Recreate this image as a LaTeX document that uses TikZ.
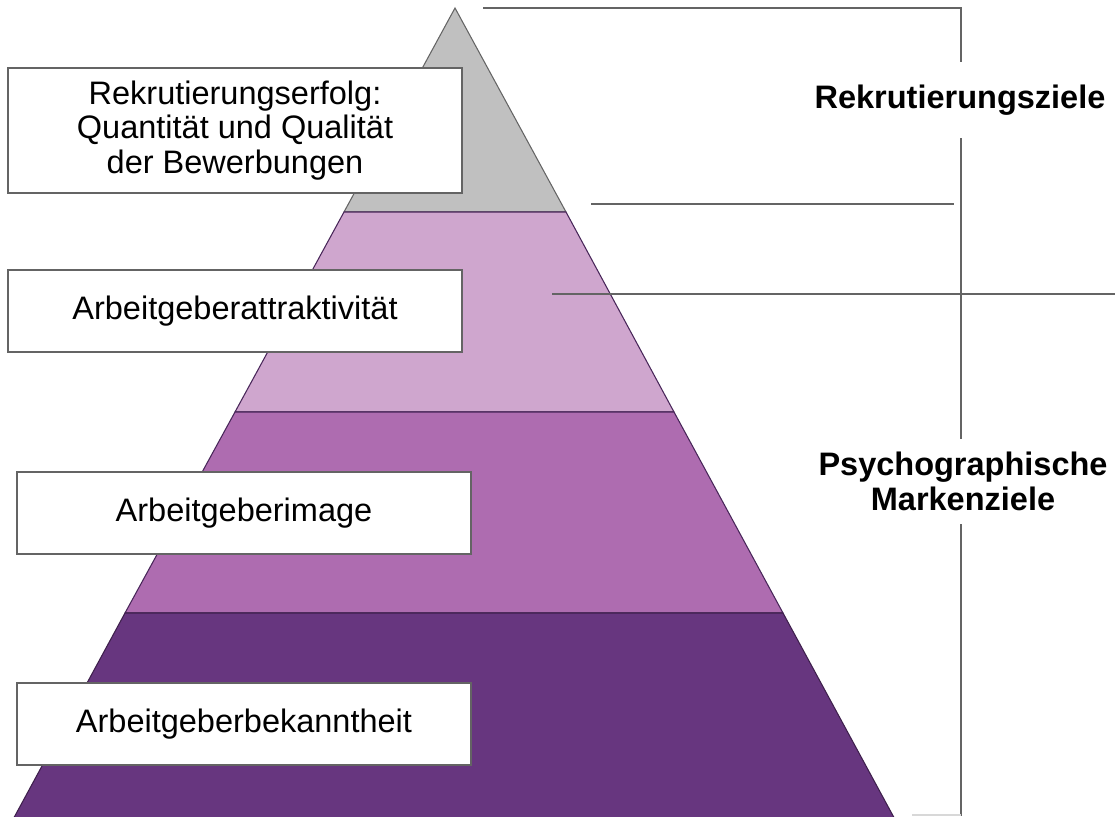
\documentclass[tikz,border=0pt]{standalone}
\usepackage{fontspec}
\setmainfont{Liberation Sans}

\definecolor{stufegrau}{RGB}{192,192,192}
\definecolor{stufehell}{RGB}{207,166,206}
\definecolor{stufemittel}{RGB}{174,108,176}
\definecolor{stufedunkel}{RGB}{103,54,127}
\definecolor{linie}{RGB}{100,100,100}

\tikzset{
  stufenbox/.style={draw=linie, fill=white, line width=0.85pt, inner sep=0pt,
    minimum width=9.08cm, align=center, font=\fontsize{18.5}{19.6}\selectfont},
  zieltext/.style={fill=white, inner sep=0pt, minimum width=6cm, align=center,
    font=\bfseries\fontsize{18.5}{19.8}\selectfont},
  klammer/.style={draw=linie, line width=1.1pt}
}

\begin{document}
\begin{tikzpicture}[x=0.02cm,y=-0.02cm]
\useasboundingbox (0,0) rectangle (1115,816);
\clip (0,0) rectangle (1115,816);

% pyramid
\filldraw[fill=stufegrau, draw=linie, line width=0.6pt]
  (455,8) -- (566,212) -- (344,212) -- cycle;
\filldraw[fill=stufehell, draw=stufedunkel!70!black, line width=0.6pt]
  (344,212) -- (566,212) -- (674,412) -- (235,412) -- cycle;
\filldraw[fill=stufemittel, draw=stufedunkel!70!black, line width=0.6pt]
  (235,412) -- (674,412) -- (783,613) -- (125,613) -- cycle;
\filldraw[fill=stufedunkel, draw=stufedunkel!60!black, line width=0.6pt]
  (125,613) -- (783,613) -- (904,836) -- (4,836) -- cycle;

% bracket lines
\draw[klammer] (483,8) -- (961,8) -- (961,816);
\draw[klammer] (591,204) -- (954,204);
\draw[klammer] (552,294) -- (1115,294);
\draw[draw=linie!25, line width=0.6pt] (912,815) -- (961,815);

% labels of the levels
\begin{scope}[every node/.style={stufenbox}]
  \node[minimum height=2.5cm]  (erfolg)      at (235,130.5) {Rekrutierungserfolg:\\Quantität und Qualität\\der Bewerbungen};
  \node[minimum height=1.64cm] (attraktiv)   at (235,311)   {Arbeitgeberattraktivität};
  \node[minimum height=1.64cm] (image)       at (244,513)   {Arbeitgeberimage};
  \node[minimum height=1.64cm] (bekanntheit) at (244,724)   {Arbeitgeberbekanntheit};
\end{scope}

% goals
\node[zieltext, minimum height=1.52cm] (rziel) at (960,100) {Rekrutierungsziele};
\node[zieltext, minimum height=1.7cm]  (pziel) at (963,481) {Psychographische\\Markenziele};

\end{tikzpicture}
\end{document}
